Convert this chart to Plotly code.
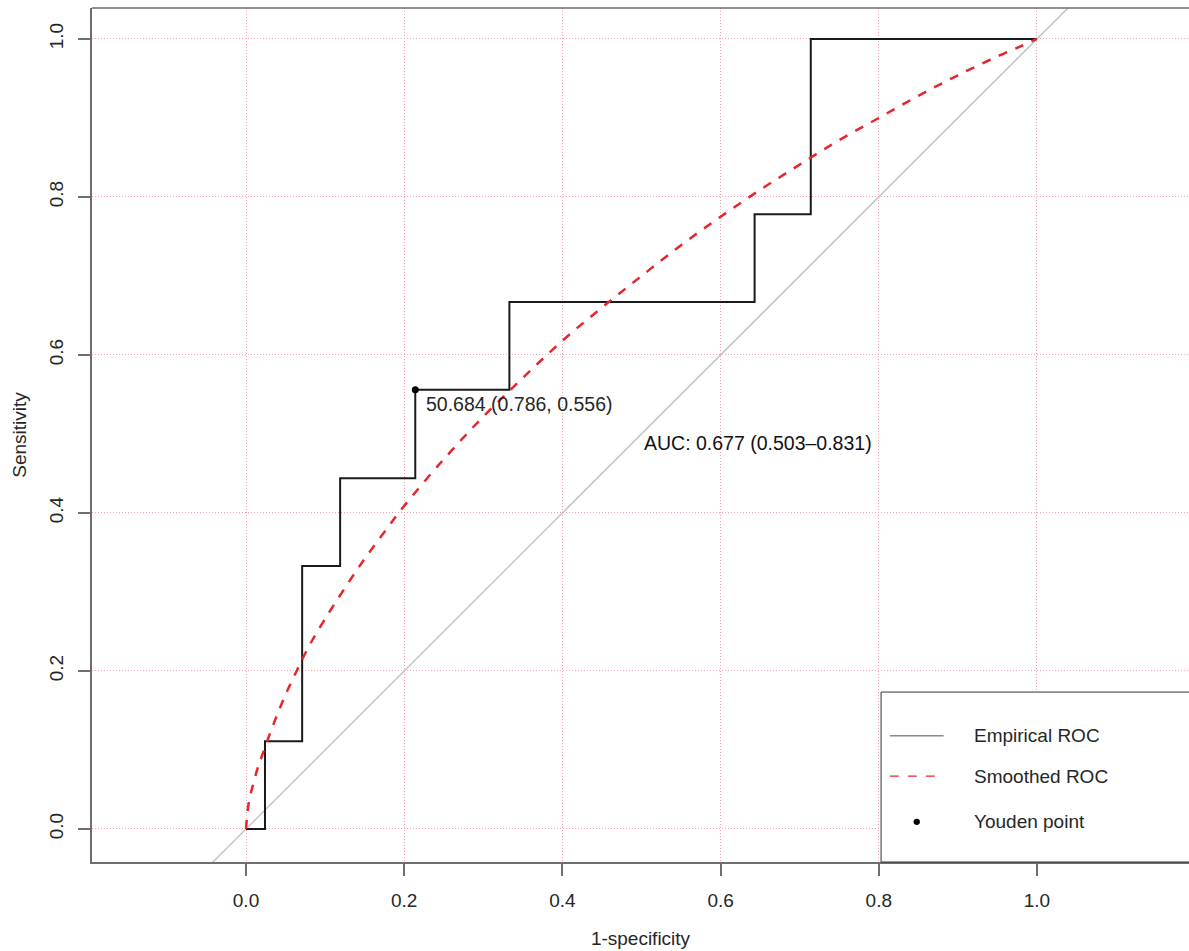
import plotly.graph_objects as go

# Empirical ROC (1-specificity, sensitivity) step vertices
emp_fpr = [0.0, 0.024, 0.024, 0.071, 0.071, 0.119, 0.119, 0.214, 0.214, 0.333, 0.333,
           0.643, 0.643, 0.714, 0.714, 1.0]
emp_tpr = [0.0, 0.0, 0.111, 0.111, 0.333, 0.333, 0.444, 0.444, 0.556, 0.556, 0.667,
           0.667, 0.778, 0.778, 1.0, 1.0]

# Smoothed ROC
sm_fpr = [0.0, 0.001, 0.003, 0.006, 0.01, 0.015, 0.02, 0.03, 0.04, 0.05, 0.064, 0.08,
          0.1, 0.125, 0.15, 0.175, 0.2, 0.25, 0.3, 0.35, 0.4, 0.45, 0.5, 0.55, 0.6,
          0.65, 0.7, 0.75, 0.8, 0.85, 0.9, 0.95, 0.98, 1.0]
sm_tpr = [0.0, 0.012, 0.03, 0.045, 0.06, 0.078, 0.092, 0.12, 0.146, 0.17, 0.2, 0.232,
          0.266, 0.305, 0.342, 0.376, 0.409, 0.468, 0.522, 0.571, 0.618, 0.66, 0.70,
          0.739, 0.775, 0.809, 0.841, 0.872, 0.90, 0.928, 0.954, 0.978, 0.991, 1.0]

youden_x = [0.214]
youden_y = [0.556]
youden_label = "50.684 (0.786, 0.556)"
auc_label = "AUC: 0.677 (0.503\u20130.831)"

ticks = [0.0, 0.2, 0.4, 0.6, 0.8, 1.0]
tick_text = ["0.0", "0.2", "0.4", "0.6", "0.8", "1.0"]
legend_names = ["Empirical ROC", "Smoothed ROC", "Youden point"]

FONT = "Liberation Sans, Arial, Helvetica, sans-serif"
grid_col = "#f3a6b0"
axis_col = "#6e6e6e"
TXT = "#262626"

fig = go.Figure()
# diagonal reference
fig.add_trace(go.Scatter(x=[-0.3, 1.3], y=[-0.3, 1.3], mode="lines",
                         line=dict(color="#c4c4c4", width=1.5), showlegend=False, hoverinfo="skip"))
fig.add_trace(go.Scatter(x=emp_fpr, y=emp_tpr, mode="lines",
                         line=dict(color="#1a1a1a", width=2), showlegend=False))
fig.add_trace(go.Scatter(x=sm_fpr, y=sm_tpr, mode="lines", line_shape="spline",
                         line=dict(color="#e5262b", width=2.5, dash="dash"), showlegend=False))
fig.add_trace(go.Scatter(x=youden_x, y=youden_y, mode="markers",
                         marker=dict(color="black", size=7), showlegend=False))

fig.add_annotation(x=youden_x[0] + 0.011, y=youden_y[0] - 0.018, text=youden_label,
                   showarrow=False, xanchor="left", yanchor="middle",
                   font=dict(family=FONT, size=19.5, color=TXT))
fig.add_annotation(x=0.647, y=0.489, text=auc_label, showarrow=False,
                   xanchor="center", yanchor="middle",
                   font=dict(family=FONT, size=19.5, color="#111"))

# top border of the box
fig.add_shape(type="line", xref="paper", yref="paper", x0=0, x1=1, y0=1, y1=1,
              line=dict(color=axis_col, width=1.5))

# legend box
fig.add_shape(type="rect", xref="paper", yref="paper", x0=0.7193, x1=1.05, y0=0, y1=0.199,
              line=dict(color="#333", width=1), fillcolor="white", layer="above")
leg_y = [0.118, 0.067, 0.009]
fig.add_shape(type="line", x0=0.814, x1=0.882, y0=leg_y[0], y1=leg_y[0],
              line=dict(color="#8a8a8a", width=1.5), layer="above")
fig.add_shape(type="line", x0=0.814, x1=0.882, y0=leg_y[1], y1=leg_y[1],
              line=dict(color="#e5262b", width=1.2, dash="dash"), layer="above")
fig.add_shape(type="circle", x0=0.844, x1=0.852, y0=leg_y[2] - 0.004, y1=leg_y[2] + 0.004,
              line=dict(color="black", width=0), fillcolor="black", layer="above")
for name, yy in zip(legend_names, leg_y):
    fig.add_annotation(x=0.918, y=yy, text=name, showarrow=False, xanchor="left",
                       yanchor="middle", font=dict(family=FONT, size=19, color=TXT))

fig.update_layout(
    width=1189, height=951,
    margin=dict(l=92, r=0, t=8, b=89),
    paper_bgcolor="white", plot_bgcolor="white",
    font=dict(family=FONT, size=19, color=TXT),
    showlegend=False,
)
fig.update_xaxes(range=[-0.1947, 1.1922], tickvals=ticks, ticktext=tick_text,
                 showgrid=True, gridcolor=grid_col, griddash="1px,2px", gridwidth=1,
                 zeroline=False, showline=True, linecolor=axis_col, linewidth=1.5,
                 ticks="outside", ticklen=12, tickcolor=axis_col, tickwidth=1.5,
                 ticklabelstandoff=8,
                 tickfont=dict(family=FONT, size=19, color=TXT),
                 title=dict(text="1-specificity", font=dict(family=FONT, size=19, color=TXT),
                            standoff=22))
fig.update_yaxes(range=[-0.0418, 1.0392], tickvals=ticks, ticktext=tick_text,
                 showgrid=True, gridcolor=grid_col, griddash="1px,2px", gridwidth=1,
                 zeroline=False, showline=True, linecolor=axis_col, linewidth=1.5,
                 ticks="outside", ticklen=12, tickcolor=axis_col, tickwidth=1.5,
                 tickangle=-90, ticklabelstandoff=8,
                 tickfont=dict(family=FONT, size=19, color=TXT),
                 title=dict(text="Sensitivity", font=dict(family=FONT, size=19, color=TXT),
                            standoff=14))

fig.write_html("out.html")
